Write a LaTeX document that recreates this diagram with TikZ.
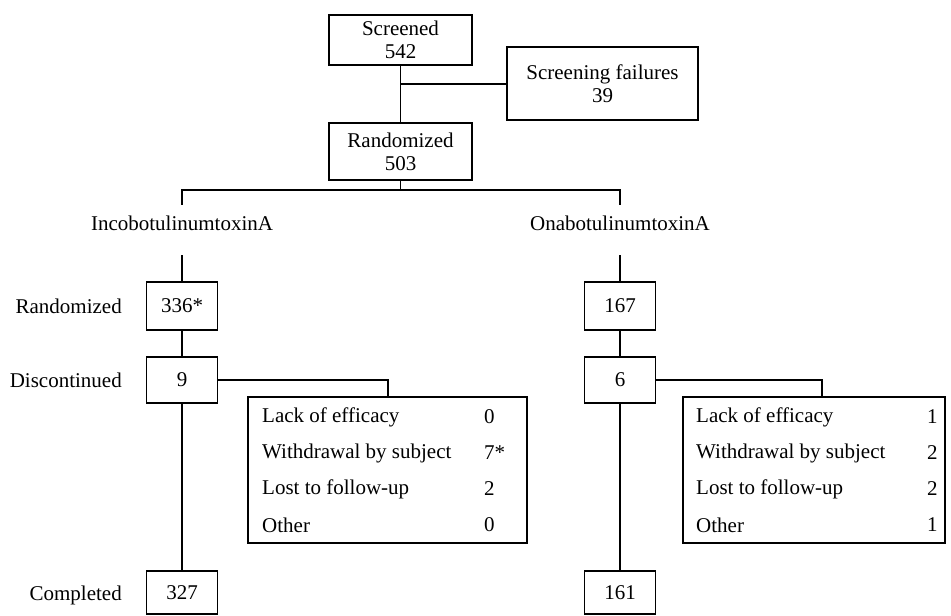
\documentclass[tikz,border=0pt]{standalone}
\usepackage{fontspec}
\setmainfont{Liberation Serif}
\begin{document}
\begin{tikzpicture}[x=1pt,y=-1pt,
  every node/.style={font=\fontsize{21}{23}\selectfont, inner sep=0pt},
  box/.style={draw, line width=1.9pt, align=center},
  ln/.style={line width=1.9pt}]
\useasboundingbox (0,0) rectangle (951,616);
% top
\node[box, minimum width=143, minimum height=50] (scr) at (400.5,40) {Screened\\542};
\node[box, minimum width=191, minimum height=73] (fail) at (602.5,83.5) {Screening failures\\39};
\node[box, minimum width=143, minimum height=57] (rand) at (400.5,151.5) {Randomized\\503};
\draw[ln] (scr.south) -- (rand.north);
\coordinate (j1) at (400.5,84);
\draw[ln] (j1) -- (fail.west |- j1);
% arms
\node (inco) at (182,223) {IncobotulinumtoxinA};
\node (ona) at (620,223) {OnabotulinumtoxinA};
\coordinate (it) at (182,205);
\coordinate (ib) at (182,255);
\coordinate (ot) at (620,205);
\coordinate (ob) at (620,255);
\coordinate (br) at (400.5,190);
\draw[ln] (rand.south) -- (br) -| (it);
\draw[ln] (br) -| (ot);
% left column
\node[box, minimum width=71, minimum height=48] (l1) at (182,306) {336*};
\node[box, minimum width=71, minimum height=46] (l2) at (182,380) {9};
\node[box, minimum width=71, minimum height=43] (l3) at (182,592.5) {327};
\node[anchor=east] (tr) at (122,306) {Randomized};
\node[anchor=east] (td) at (122,380) {Discontinued};
\node[anchor=east] (tc) at (122,595) {Completed};
\draw[ln] (ib) -- (l1.north);
\draw[ln] (l1.south) -- (l2.north);
\draw[ln] (l2.south) -- (l3.north);
% right column
\node[box, minimum width=71, minimum height=48] (r1) at (620,306) {167};
\node[box, minimum width=71, minimum height=46] (r2) at (620,380) {6};
\node[box, minimum width=71, minimum height=43] (r3) at (620,592.5) {161};
\draw[ln] (ob) -- (r1.north);
\draw[ln] (r1.south) -- (r2.north);
\draw[ln] (r2.south) -- (r3.north);
% detail boxes
\node[box, minimum width=279, minimum height=146] (dl) at (387.5,470) {};
\node[box, minimum width=262, minimum height=146] (dr) at (814,470) {};
\coordinate (cl) at (388,397);
\coordinate (cr) at (822,397);
\draw[ln] (l2.east) -| (cl);
\draw[ln] (r2.east) -| (cr);
% left detail text
\node[anchor=west] (a1) at (262,417) {Lack of efficacy};
\node[anchor=west] (a2) at (262,453) {Withdrawal by subject};
\node[anchor=west] (a3) at (262,489) {Lost to follow-up};
\node[anchor=west] (a4) at (262,525) {Other};
\node[anchor=west] (an1) at (484,417) {0};
\node[anchor=west] (an2) at (484,453) {7*};
\node[anchor=west] (an3) at (484,489) {2};
\node[anchor=west] (an4) at (484,525) {0};
% right detail text
\node[anchor=west] (b1) at (696,417) {Lack of efficacy};
\node[anchor=west] (b2) at (696,453) {Withdrawal by subject};
\node[anchor=west] (b3) at (696,489) {Lost to follow-up};
\node[anchor=west] (b4) at (696,525) {Other};
\node[anchor=west] (bn1) at (927,417) {1};
\node[anchor=west] (bn2) at (927,453) {2};
\node[anchor=west] (bn3) at (927,489) {2};
\node[anchor=west] (bn4) at (927,525) {1};
\end{tikzpicture}
\end{document}
